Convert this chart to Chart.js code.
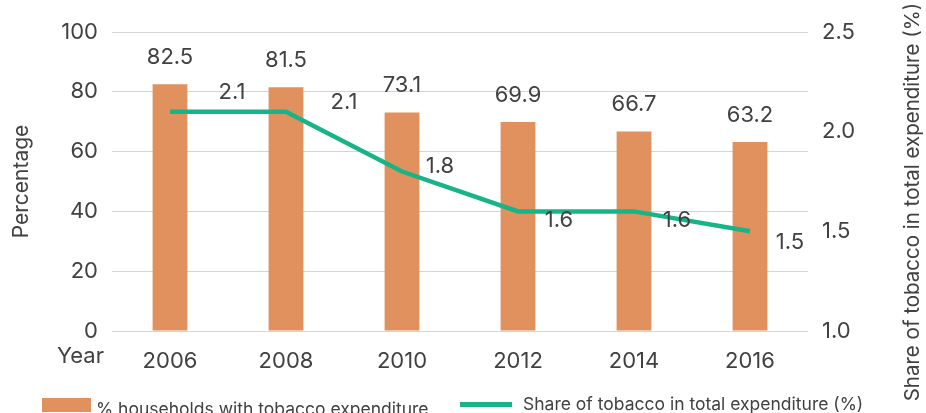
<!DOCTYPE html>
<html>
<head>
<meta charset="utf-8">
<script src="https://cdn.jsdelivr.net/npm/chart.js@4/dist/chart.umd.min.js"></script>
<style>
  html, body { margin: 0; padding: 0; background: #fff; }
  #wrap { width: 926px; height: 413px; position: relative; }
</style>
</head>
<body>
<div id="wrap"><canvas id="tobaccoChart"></canvas></div>
<script>
const years = ['2006', '2008', '2010', '2012', '2014', '2016'];
const householdsPct = [82.5, 81.5, 73.1, 69.9, 66.7, 63.2];
const tobaccoShare = [2.1, 2.1, 1.8, 1.6, 1.6, 1.5];

// label offsets for the line values (px from each point)
const shareLabelDx = [62, 58, 38, 41, 43, 40];
const shareLabelDy = [-19, -9, -5, 9, 9, 11];

const FONT = 'Inter, "Noto Sans", sans-serif';
const TEXT = '#414141';
const ORANGE = '#E0915E';
const GREEN = '#16B487';

const extras = {
  id: 'extras',
  afterDatasetsDraw(chart) {
    const ctx = chart.ctx;
    ctx.save();
    ctx.fillStyle = TEXT;
    ctx.font = '22px ' + FONT;
    ctx.textAlign = 'center';

    // bar values
    ctx.textBaseline = 'middle';
    chart.getDatasetMeta(0).data.forEach((bar, i) => {
      ctx.fillText(householdsPct[i].toFixed(1), bar.x, bar.y - 27);
    });

    // line values
    chart.getDatasetMeta(1).data.forEach((pt, i) => {
      ctx.fillText(tobaccoShare[i].toFixed(1), pt.x + shareLabelDx[i], pt.y + shareLabelDy[i]);
    });

    // "Year" in front of the category labels
    ctx.textAlign = 'right';
    ctx.fillText('Year', 104, 356);

    // right axis title
    ctx.save();
    ctx.translate(913, 202);
    ctx.rotate(-Math.PI / 2);
    ctx.textAlign = 'center';
    ctx.font = '20.5px ' + FONT;
    ctx.fillText('Share of tobacco in total expenditure (%)', 0, 0);
    ctx.restore();

    // legend
    ctx.font = '17.5px ' + FONT;
    ctx.textAlign = 'left';
    ctx.fillStyle = ORANGE;
    ctx.fillRect(42, 398, 49, 14);
    ctx.fillStyle = TEXT;
    ctx.fillText('% households with tobacco expenditure', 96, 410);
    ctx.fillStyle = GREEN;
    ctx.fillRect(460, 402, 52, 5);
    ctx.fillStyle = TEXT;
    ctx.fillText('Share of tobacco in total expenditure (%)', 523, 405);
    ctx.restore();
  }
};

new Chart(document.getElementById('tobaccoChart'), {
  type: 'bar',
  data: {
    labels: years,
    datasets: [
      {
        label: '% households with tobacco expenditure',
        data: householdsPct,
        backgroundColor: ORANGE,
        barPercentage: 0.3,
        categoryPercentage: 1,
        yAxisID: 'y',
        order: 2
      },
      {
        type: 'line',
        label: 'Share of tobacco in total expenditure (%)',
        data: tobaccoShare,
        borderColor: GREEN,
        borderWidth: 4.5,
        pointRadius: 0,
        tension: 0,
        yAxisID: 'y1',
        order: 1
      }
    ]
  },
  options: {
    responsive: true,
    maintainAspectRatio: false,
    animation: false,
    layout: { padding: { top: 32, left: 0, right: 0, bottom: 0 } },
    plugins: {
      legend: { display: false },
      tooltip: { enabled: false }
    },
    scales: {
      x: {
        grid: { display: false },
        border: { display: false },
        ticks: { color: TEXT, font: { family: FONT, size: 22 }, padding: 9 },
        afterFit: s => { s.height = 82; }
      },
      y: {
        position: 'left',
        min: 0, max: 100,
        grid: { color: '#d4d4d4', drawTicks: false },
        border: { display: false },
        ticks: { stepSize: 20, color: TEXT, font: { family: FONT, size: 22 }, padding: 14 },
        title: {
          display: true, text: 'Percentage', color: TEXT,
          font: { family: FONT, size: 21 }, padding: { top: 9, bottom: 0 }
        },
        afterFit: s => { s.width = 112; }
      },
      y1: {
        position: 'right',
        min: 1, max: 2.5,
        grid: { display: false, drawTicks: false },
        border: { display: false },
        ticks: {
          stepSize: 0.5, color: TEXT, font: { family: FONT, size: 22 }, padding: 14,
          callback: v => Number(v).toFixed(1)
        },
        afterFit: s => { s.width = 118; }
      }
    }
  },
  plugins: [extras]
});
</script>
</body>
</html>
